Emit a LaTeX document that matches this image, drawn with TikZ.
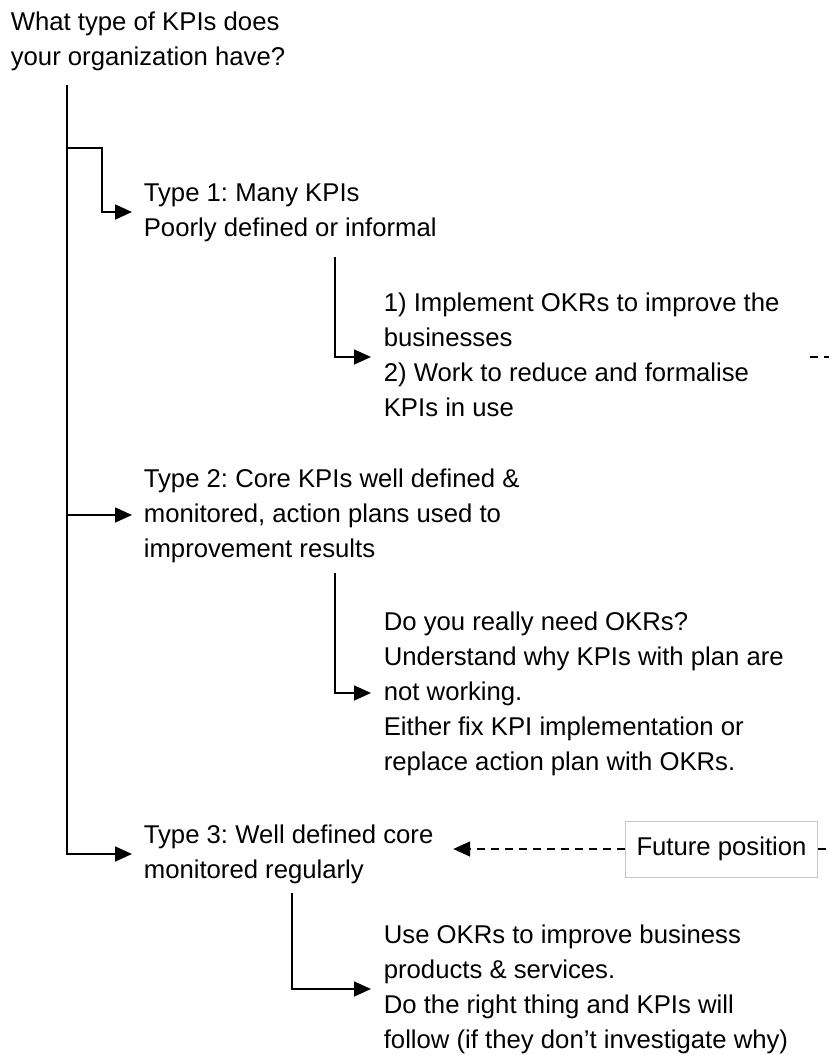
\documentclass[tikz,border=0pt]{standalone}
\usepackage{fontspec}
\setmainfont{Liberation Sans}
\usetikzlibrary{arrows.meta,positioning}
\definecolor{ink}{HTML}{000000}
\definecolor{frame}{HTML}{C8C8C8}
\frenchspacing
\tikzset{
  every picture/.style={line width=1.7pt, draw=ink, text=ink, font=\fontsize{25.7}{35}\selectfont},
  question/.style={anchor=west, align=left, inner sep=0pt},
  kpitype/.style={anchor=west, align=left, inner xsep=11pt, inner ysep=0pt},
  advice/.style={kpitype, inner xsep=12pt},
  future/.style={draw=frame, line width=1pt, anchor=west, inner xsep=11pt, minimum height=56pt},
  flow/.style={-{Triangle[length=17pt,width=15pt]}, draw=ink},
  trail/.style={dash pattern=on 8pt off 6pt},
  hint/.style={flow, trail},
}

\begin{document}
\begin{tikzpicture}[x=1pt, y=-1pt]
\useasboundingbox (0,0) rectangle (829,1055);
% question and the three kinds of KPI
\node[question] (ask) at (10,41) {\strut What type of KPIs does\\your organization have?\strut};
\node[kpitype] (t1) at (132,212) {\strut Type 1: Many KPIs\\Poorly defined or informal\strut};
\node[kpitype] (t2) at (132,515) {\strut Type 2: Core KPIs well defined \&\\monitored, action plans used to\\improvement results\strut};
\node[kpitype] (t3) at (132,854) {\strut Type 3: Well defined core\\monitored regularly\strut};
% what to do for each kind
\node[advice] (r1) at (371,357) {\strut 1) Implement OKRs to improve the\\businesses\\2) Work to reduce and formalise\\KPIs in use\strut};
\node[advice] (r2) at (371,693) {\strut Do you really need OKRs?\\Understand why KPIs with plan are\\not working.\\Either fix KPI implementation or\\replace action plan with OKRs.\strut};
\node[advice] (r3) at (371,989) {\strut Use OKRs to improve business\\products \& services.\\Do the right thing and KPIs will\\follow (if they don’t investigate why)\strut};
\node[future] (fut) at (625,849) {Future position};
% connectors
\coordinate (trunk) at (67,85);
\coordinate (fork) at (67,148);
\coordinate (r1top) at (335,257);
\coordinate (r2top) at (335,573);
\coordinate (r3top) at (292,893);
\coordinate (rim) at (829,357);
\draw[flow] (trunk) |- (t3.west);
\draw[flow] (trunk |- t2.west) -- (t2.west);
\draw[flow] (fork) -- ++(35,0) |- (t1.west);
\draw[flow] (r1top) |- (r1.west);
\draw[flow] (r2top) |- (r2.west);
\draw[flow] (r3top) |- (r3.west);
\draw[hint, shorten >=8pt] (fut.west) -- (t3.east |- fut.west);
\draw[trail] (fut.east) -- (fut.east -| rim);
\draw[trail] (rim) ++(-19,0) -- (rim);
\end{tikzpicture}
\end{document}
